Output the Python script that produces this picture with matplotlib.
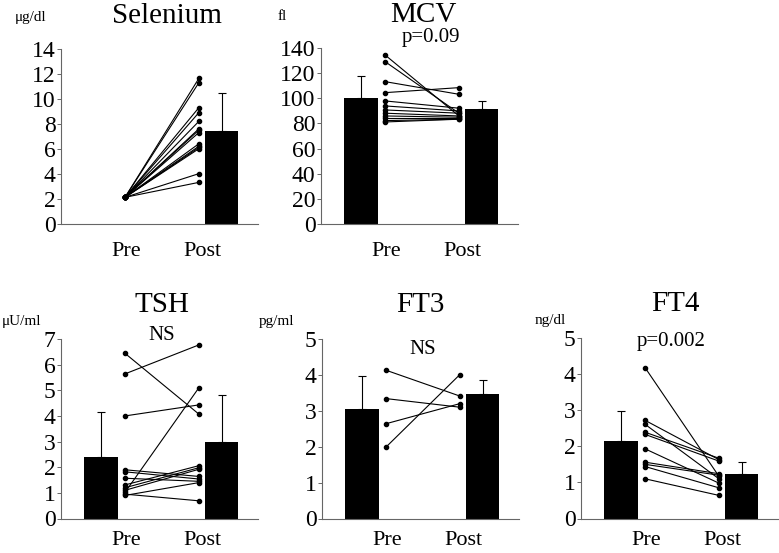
import numpy as np
import matplotlib.pyplot as plt

plt.rcParams['font.family'] = ['Liberation Serif', 'DejaVu Serif']

# paired values, pre -> post
se_pre = [2.1] * 14
se_post = [11.65, 11.3, 9.3, 8.9, 8.2, 7.6, 7.5, 7.3, 6.4, 6.2, 6.1, 6.0, 4.0, 3.3]
mcv_pre = [134.7, 129.4, 113.4, 104.6, 98.0, 94.0, 90.8, 88.2, 86.0, 84.2, 82.3, 81.2]
mcv_post = [86.0, 88.2, 103.3, 108.6, 92.2, 90.0, 88.2, 86.0, 85.0, 84.2, 83.4, 83.4]
tsh_pre = [6.44, 5.64, 4.00, 1.90, 1.82, 1.57, 1.31, 1.20, 1.10, 1.02, 0.95, 0.90]
tsh_post = [4.07, 6.77, 4.43, 1.64, 1.54, 1.45, 2.06, 1.98, 1.92, 5.10, 0.69, 1.40]
ft3_pre = [4.13, 3.34, 2.64, 1.99]
ft3_post = [3.41, 3.10, 3.20, 4.01]
ft4_pre = [4.18, 2.72, 2.61, 2.39, 2.33, 1.93, 1.56, 1.50, 1.44, 1.10]
ft4_post = [1.17, 1.63, 1.10, 1.67, 1.59, 0.98, 1.24, 1.20, 0.85, 0.64]

# mean bars and upper SD (None = no bar)
bar_mean = {'Selenium': [None, 7.4], 'MCV': [100.6, 91.3], 'TSH': [2.38, 3.0],
            'FT3': [3.04, 3.47], 'FT4': [2.15, 1.24]}
bar_top = {'Selenium': [None, 10.47], 'MCV': [117.6, 98.2], 'TSH': [4.14, 4.81],
           'FT3': [3.96, 3.86], 'FT4': [2.98, 1.56]}

y_max = {'Selenium': 14, 'MCV': 140, 'TSH': 7, 'FT3': 5, 'FT4': 5}
y_step = {'Selenium': 2, 'MCV': 20, 'TSH': 1, 'FT3': 1, 'FT4': 1}
units = {'Selenium': 'μg/dl', 'MCV': 'fl', 'TSH': 'μU/ml', 'FT3': 'pg/ml', 'FT4': 'ng/dl'}
stats = {'Selenium': '', 'MCV': 'p=0.09', 'TSH': 'NS', 'FT3': 'NS', 'FT4': 'p=0.002'}
groups = ['Pre', 'Post']

pairs = {'Selenium': (se_pre, se_post), 'MCV': (mcv_pre, mcv_post),
         'TSH': (tsh_pre, tsh_post), 'FT3': (ft3_pre, ft3_post),
         'FT4': (ft4_pre, ft4_post)}

W, H = 779, 553
# name, left px, top px, height px, title x, stat (x, y), unit (x, y), label pad
layout = [
    ('Selenium', 61, 49, 174.5, 0.54, (0.56, 1.06), (-0.234, 1.18), 13),
    ('MCV', 321, 48.3, 175.4, 0.52, (0.56, 1.06), (-0.218, 1.18), 13),
    ('TSH', 61, 339, 179.5, 0.51, (0.51, 1.02), (-0.30, 1.095), 9),
    ('FT3', 322, 339, 179.5, 0.50, (0.51, 0.94), (-0.32, 1.095), 9),
    ('FT4', 581, 338, 180.5, 0.48, (0.46, 0.98), (-0.234, 1.095), 9),
]

bar_x = [2.03, 8.17]
dot_x = [3.25, 7.0]
bw = 1.68

fig = plt.figure(figsize=(7.79, 5.53), dpi=100)

for name, left, top, h, tx, (sx, sy), (ux, uy), lpad in layout:
    ax = fig.add_axes([left / W, (H - top - h) / H, 197 / W, h / H])
    pre, post = pairs[name]
    for a, b in zip(pre, post):
        ax.plot(dot_x, [a, b], color='black', lw=0.8, marker='o', ms=3, zorder=3)
    for i in range(2):
        m = bar_mean[name][i]
        if m is None:
            continue
        ax.bar(bar_x[i], m, width=bw, color='black', zorder=2)
        ax.errorbar(bar_x[i], m, yerr=[[0], [bar_top[name][i] - m]], color='black',
                    lw=0.8, capsize=3, capthick=0.8, zorder=1)
    ax.set_xlim(0, 10)
    ax.set_ylim(0, y_max[name])
    ax.set_yticks(np.arange(0, y_max[name] + 0.1, y_step[name]))
    ax.set_xticks([3.3, 7.2])
    ax.set_xticklabels(groups, fontsize=16)
    ax.tick_params(axis='x', length=0, pad=lpad)
    ax.tick_params(axis='y', labelsize=17, length=3, width=0.7, color='#666666', pad=1)
    for s in ['top', 'right']:
        ax.spines[s].set_visible(False)
    for s in ['left', 'bottom']:
        ax.spines[s].set_color('#666666')
        ax.spines[s].set_linewidth(0.8)
    ax.text(tx, 1.19, name, transform=ax.transAxes, ha='center', va='center', fontsize=21)
    if stats[name]:
        ax.text(sx, sy, stats[name], transform=ax.transAxes, ha='center', va='center', fontsize=15)
    ax.text(ux, uy, units[name], transform=ax.transAxes, ha='left', va='center', fontsize=11)

fig.savefig('out.png', dpi=100)
